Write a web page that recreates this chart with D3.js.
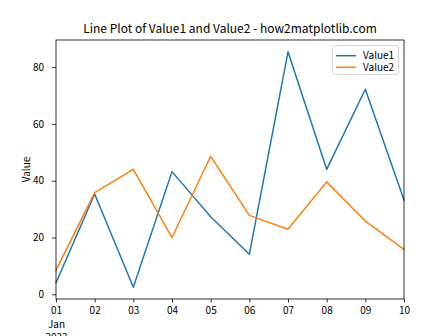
<!DOCTYPE html>
<html><head><meta charset="utf-8">
<script src="https://cdn.jsdelivr.net/npm/d3@7"></script>
<style>
html,body{margin:0;padding:0;background:#fff;}
svg{display:block;}
text{font-family:"Noto Sans CJK SC","Noto Sans",sans-serif;fill:#000;}
</style></head>
<body>
<svg id="chart" width="448" height="336"></svg>
<script>
const dates = ["2023-01-01","2023-01-02","2023-01-03","2023-01-04","2023-01-05","2023-01-06","2023-01-07","2023-01-08","2023-01-09","2023-01-10"];
const value1 = [4.1, 35.3, 2.5, 43.2, 27.3, 14.1, 85.4, 44.0, 72.2, 33.2];
const value2 = [8.5, 35.8, 44.0, 20.0, 48.6, 27.8, 22.9, 39.6, 25.8, 15.8];
const seriesNames = ["Value1","Value2"];
const colors = ["#1f77b4","#ff7f0e"];
const yTicks = [0,20,40,60,80];
const title = "Line Plot of Value1 and Value2 - how2matplotlib.com";
const yLabel = "Value";

const parse = d3.timeParse("%Y-%m-%d");
const xs = dates.map(parse);
const svg = d3.select("#chart");
const L=56, R=404, T=40, B=299;

const x = d3.scaleTime().domain(d3.extent(xs)).range([L,R]);
const all = value1.concat(value2);
const mn = d3.min(all), mx = d3.max(all), pad=(mx-mn)*0.05;
const y = d3.scaleLinear().domain([mn-pad, mx+pad]).range([B,T]);

// lines
const series = [value1, value2];
const line = d3.line().x((d,i)=>x(xs[i])).y(d=>y(d));
series.forEach((s,k)=>{
  svg.append("path").datum(s).attr("d",line).attr("fill","none")
    .attr("stroke",colors[k]).attr("stroke-width",1.5).attr("stroke-linejoin","round").attr("stroke-linecap","square");
});

// axes
const xAxis = d3.axisBottom(x).tickValues(xs).tickSize(3.5).tickPadding(4.5)
  .tickFormat(d=>d3.timeFormat("%d")(d));
const gx = svg.append("g").attr("transform",`translate(0,${B})`).call(xAxis);
gx.select(".domain").remove();
gx.selectAll("text").style("font-size","10px").attr("dy","0.71em");
gx.selectAll(".tick line").attr("stroke","#000").attr("stroke-width",0.8);
// multi-line first label
const first = gx.select(".tick text");
first.append("tspan").attr("x",0).attr("dy","1.4em").text(d3.timeFormat("%b")(xs[0]));
first.append("tspan").attr("x",0).attr("dy","1.3em").text(d3.timeFormat("%Y")(xs[0]));

const yAxis = d3.axisLeft(y).tickValues(yTicks).tickSize(4).tickPadding(8);
const gy = svg.append("g").attr("transform",`translate(${L},0)`).call(yAxis);
gy.select(".domain").remove();
gy.selectAll("text").style("font-size","10px");
gy.selectAll(".tick line").attr("stroke","#000").attr("stroke-width",0.8);

// frame
svg.append("rect").attr("x",L).attr("y",T).attr("width",R-L).attr("height",B-T)
  .attr("fill","none").attr("stroke","#000").attr("stroke-width",0.8);

// title & label
svg.append("text").attr("x",(L+R)/2).attr("y",33).attr("text-anchor","middle")
  .style("font-size","12px").text(title);
svg.append("text").attr("transform",`translate(30,${(T+B)/2}) rotate(-90)`).attr("text-anchor","middle")
  .style("font-size","10px").text(yLabel);

// legend
const lg = svg.append("g");
lg.append("rect").attr("x",332.5).attr("y",45.5).attr("width",66).attr("height",29).attr("rx",2)
  .attr("fill","#fff").attr("fill-opacity",0.8).attr("stroke","#ccc").attr("stroke-width",0.8);
seriesNames.forEach((n,k)=>{
  const yy = 55.7 + k*11.6;
  lg.append("line").attr("x1",336).attr("x2",356).attr("y1",yy).attr("y2",yy)
    .attr("stroke",colors[k]).attr("stroke-width",1.5);
  lg.append("text").attr("x",363).attr("y",yy).attr("dy","0.35em").style("font-size","10px").text(n);
});
</script>
</body></html>
